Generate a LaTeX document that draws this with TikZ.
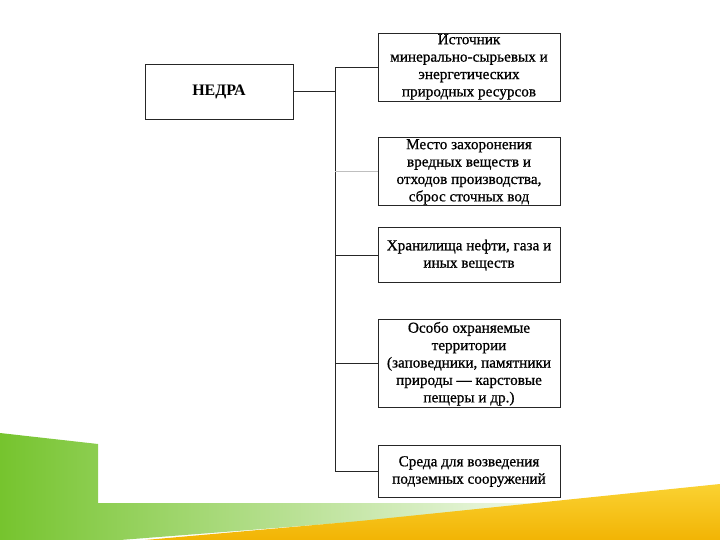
\documentclass[tikz,border=0pt]{standalone}
\usepackage{fontspec}
\setmainfont{Liberation Serif}
\newfontfamily\scanfont[FakeBold=0.8]{Liberation Serif}
\usetikzlibrary{positioning}
\definecolor{leafgreen}{RGB}{118,196,46}
\definecolor{midgreen}{RGB}{150,210,80}
\definecolor{sungold}{RGB}{242,180,4}
\definecolor{paleyellow}{RGB}{250,210,50}
\tikzset{root box/.style={rectangle,draw=black!85,line width=0.9pt,minimum width=148pt,minimum height=55pt,font=\fontsize{16}{17}\selectfont\bfseries},
         item box/.style={rectangle,draw=black!85,line width=0.9pt,minimum width=182pt,inner xsep=2pt,inner ysep=1pt,align=center,font=\scanfont\fontsize{15.2}{17.4}\selectfont},
         branch/.style={black!85,line width=0.9pt}
}

\begin{document}
\begin{tikzpicture}[x=1pt,y=-1pt]
\useasboundingbox (0,0) rectangle (720,540);
\shade[left color=leafgreen,middle color=midgreen,right color=white] (0,433) -- (98,444) -- (98,503) -- (600,503) -- (120,540) -- (0,540) -- cycle;
\shade[top color=paleyellow,bottom color=sungold] (145,540) -- (360,521) -- (720,484) -- (720,540) -- cycle;
\node[root box] (nedra) at (219,91.5) {НЕДРА};
\node[item box,minimum height=68pt] (source) at (469,67) {Источник\\минерально-сырьевых и\\энергетических\\природных ресурсов};
\node[item box,minimum height=68pt,below=36pt of source] (burial) {Место захоронения\\вредных веществ и\\отходов производства,\\сброс сточных вод};
\node[item box,minimum height=55pt,below=21pt of burial] (storage) {Хранилища нефти, газа и\\иных веществ};
\node[item box,minimum height=88pt,below=36pt of storage] (reserve) {Особо охраняемые\\территории\\(заповедники, памятники\\природы — карстовые\\пещеры и др.)};
\node[item box,minimum height=52pt,below=37pt of reserve] (ground) {Среда для возведения\\подземных сооружений};
\coordinate (trunk) at (335,0);
\draw[branch] (source.west) -- (source.west -| trunk) |- (ground.west);
\draw[branch] (nedra.east) -- (nedra.east -| trunk);
\draw[branch,black!25] (burial.west) -- (burial.west -| trunk);
\foreach \n in {storage,reserve}
    \draw[branch] (\n.west) -- (\n.west -| trunk);
\end{tikzpicture}
\end{document}
